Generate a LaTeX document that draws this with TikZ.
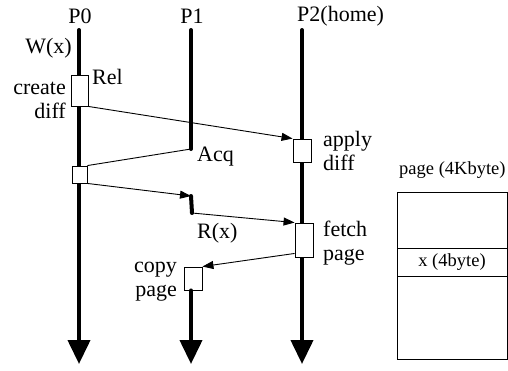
\documentclass[tikz,border=0pt]{standalone}
\usepackage{fontspec}
\setmainfont{Liberation Serif}
\usetikzlibrary{arrows.meta}
\begin{document}
\begin{tikzpicture}[x=1pt,y=-1pt,
  proc/.style={line width=4pt, line cap=round, -{Triangle[length=24pt,width=22pt]}},
  procseg/.style={line width=4pt, line cap=round},
  msg/.style={line width=0.9pt},
  msgarr/.style={line width=0.9pt, -{Triangle[length=11pt,width=8pt]}},
  box/.style={draw, line width=0.9pt, fill=white, inner sep=0pt},
  cell/.style={draw, line width=0.9pt, inner sep=0pt, minimum width=110pt},
  lbl/.style={font=\fontsize{22}{24}\selectfont, inner sep=0pt},
  slbl/.style={font=\fontsize{18.5}{20}\selectfont, inner sep=0pt}]
\useasboundingbox (0,0) rectangle (508,370);

% process lines
\coordinate (p0top) at (79,30);
\coordinate (p0end) at (79,364);
\coordinate (p1top) at (191,30);
\coordinate (acq) at (191,149);
\coordinate (r1) at (191,196);
\coordinate (r2) at (192,213);
\coordinate (p1end) at (191,364);
\coordinate (p2top) at (302,30);
\coordinate (p2end) at (302,364);

\draw[proc] (p0top) -- (p0end);
\draw[procseg] (p1top) -- (acq);
\draw[procseg] (r1) -- (r2);
\draw[proc] (p2top) -- (p2end);

% boxes
\node[box, minimum width=17pt, minimum height=31pt] (cd) at (79.5,90.5) {};
\node[box, minimum width=15pt, minimum height=17pt] (sb) at (79.5,174.5) {};
\node[box, minimum width=18pt, minimum height=23pt] (ab) at (302,150.5) {};
\node[box, minimum width=18pt, minimum height=34pt] (fb) at (304,240) {};
\node[box, minimum width=18pt, minimum height=23pt] (cb) at (193,278.5) {};
\draw[proc] (cb.south -| p1end) -- (p1end);

% messages
\draw[msgarr] (cd.south east) -- (ab.north west);
\draw[msg] (sb.north east) -- (acq);
\draw[msgarr] (sb.south east) -- (r1);
\draw[msgarr] (r2) -- (fb.north west);
\draw[msgarr] ([yshift=4pt]fb.south west) -- (cb.north east);

% labels
\node[lbl] (lp0) at (80,16) {P0};
\node[lbl] (lp1) at (192,16) {P1};
\node[lbl, anchor=west] (lp2) at (297,16) {P2(home)};
\node[lbl, anchor=east] (lw) at (72,48) {W(x)};
\node[lbl, anchor=west] (lrel) at (92,77) {Rel};
\node[lbl, anchor=east, align=right] (lcd) at (66,100) {create\\diff};
\node[lbl, anchor=west] (lacq) at (197,157) {Acq};
\node[lbl, anchor=west] (lr) at (197,233) {R(x)};
\node[lbl, anchor=east, align=right] (lcp) at (177,282) {copy\\page};
\node[lbl, anchor=west, align=left] (lad) at (323,151) {apply\\diff};
\node[lbl, anchor=west, align=left] (lfp) at (323,243) {fetch\\page};

% page
\node[slbl, anchor=west] (lpage) at (399,170) {page (4Kbyte)};
\node[cell, minimum height=56pt] (pgtop) at (452,220) {};
\node[cell, minimum height=28pt, slbl] (pgx) at (452,262) {x (4byte)};
\node[cell, minimum height=83pt] (pgbot) at (452,317.5) {};
\end{tikzpicture}
\end{document}
